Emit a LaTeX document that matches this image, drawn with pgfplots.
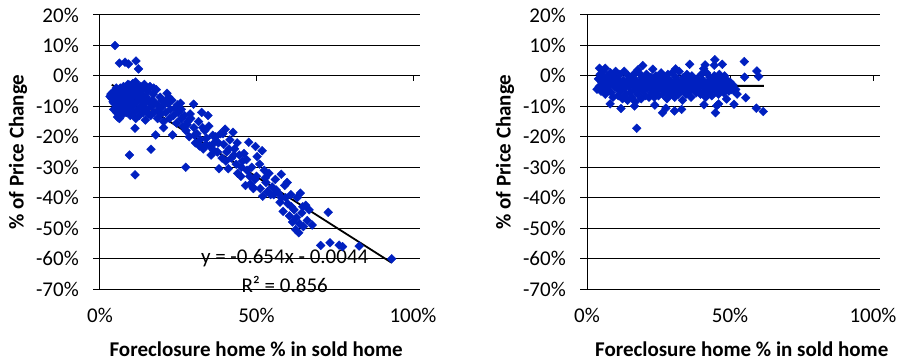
\documentclass[border=0pt]{standalone}
\usepackage{pgfplots}
\pgfplotsset{compat=1.18}
\usepackage{fontspec}
\setmainfont{Carlito}

\definecolor{markblue}{RGB}{0,32,192}
\newcommand\chartfont{\fontsize{21}{25}\selectfont}

% foreclosure share (%) vs. price change (%), all areas
\pgfplotstableread{
x y
4.8 10.0
6.2 4.2
8.0 4.5
9.1 3.9
11.5 4.9
12.3 2.3
9.4 -26.0
11.2 -32.5
11.2 -17.2
16.3 -24.1
27.4 -30.0
17.8 -19.4
20.3 -17.0
23.2 -19.4
3.5 -6.0
3.8 -7.5
4.0 -5.5
4.2 -8.5
4.5 -9.0
4.6 -6.5
5.0 -7.0
5.0 -10.5
5.3 -12.0
5.5 -8.0
5.6 -13.5
5.8 -5.0
6.0 -9.5
6.2 -14.0
6.3 -7.0
6.5 -4.0
6.8 -11.0
7.0 -6.0
7.2 -8.5
7.4 -12.5
7.5 -3.5
7.8 -10.0
8.0 -5.0
8.2 -7.5
8.5 -9.0
8.7 -4.0
9.0 -11.0
9.0 -6.5
9.3 -3.0
9.5 -8.0
9.7 -13.0
10.0 -5.5
10.2 -10.0
10.4 -7.0
10.5 -2.5
10.8 -12.0
11.0 -4.5
11.2 -9.0
11.4 -14.0
11.6 -6.0
11.8 -3.0
12.0 -11.0
12.2 -8.0
12.4 -5.0
12.6 -13.0
12.8 -7.0
13.0 -3.5
13.2 -10.0
13.5 -6.0
13.8 -12.0
14.0 -4.0
14.2 -9.0
14.5 -14.5
14.8 -7.0
15.0 -11.0
15.3 -5.0
15.6 -8.5
16.0 -3.5
16.2 -13.0
16.5 -10.0
17.0 -6.0
17.3 -12.0
17.6 -9.0
18.0 -4.5
18.4 -14.0
18.8 -11.0
19.2 -7.0
19.5 -12.5
20.0 -10.0
20.3 -15.0
20.8 -8.5
21.0 -12.0
21.4 -5.7
21.8 -9.0
22.2 -14.0
22.5 -11.0
23.0 -8.0
23.5 -13.0
24.0 -10.5
24.5 -15.5
25.0 -12.0
25.7 -9.0
26.0 -14.0
26.5 -16.5
27.0 -13.0
27.5 -18.0
28.0 -15.0
28.5 -20.0
29.0 -14.0
29.9 -9.3
30.0 -17.0
30.5 -22.0
31.0 -19.0
31.5 -15.0
32.0 -21.0
32.5 -12.0
33.0 -24.0
33.5 -18.0
34.0 -20.5
34.5 -13.0
35.0 -23.0
35.5 -26.0
36.0 -19.5
36.5 -22.0
37.0 -20.0
37.5 -25.0
38.0 -30.5
38.5 -19.0
39.0 -27.0
39.5 -22.5
40.0 -17.5
40.5 -25.0
41.0 -30.5
41.5 -21.0
42.0 -27.0
42.5 -18.5
43.0 -24.0
43.5 -29.0
44.0 -32.0
44.5 -26.0
45.0 -33.0
45.5 -28.0
46.0 -25.5
46.5 -36.0
47.0 -31.0
47.5 -21.8
48.0 -35.5
48.5 -30.0
49.0 -37.0
49.7 -23.2
50.0 -33.0
50.2 -26.5
51.0 -29.0
51.8 -24.6
52.0 -39.5
52.5 -31.0
53.0 -35.0
53.5 -38.0
54.0 -32.0
55.0 -36.5
55.5 -39.0
56.0 -34.0
57.0 -38.5
57.9 -32.3
58.0 -40.0
58.5 -44.5
59.0 -36.0
59.8 -35.0
60.0 -42.0
60.5 -46.0
61.0 -39.0
61.5 -48.0
62.0 -44.0
62.5 -50.5
63.0 -40.0
63.5 -51.5
64.0 -38.5
64.5 -45.0
65.0 -49.5
65.7 -42.5
66.2 -47.5
66.8 -44.0
67.8 -49.0
70.5 -55.7
72.9 -44.8
73.5 -54.8
76.4 -55.6
77.5 -56.1
82.8 -55.9
93.2 -60.1
3.2 -6.8
4.4 -11.0
5.2 -4.0
6.0 -12.5
6.6 -9.0
7.6 -6.5
8.4 -12.0
8.9 -2.8
9.8 -4.5
10.6 -9.5
11.4 -2.0
12.0 -6.5
13.4 -8.0
14.2 -2.8
15.5 -12.5
16.8 -8.0
17.2 -4.0
18.5 -9.5
19.8 -8.0
22.0 -7.0
24.8 -9.5
26.0 -11.0
27.8 -16.0
28.8 -12.5
30.2 -19.5
31.8 -23.0
32.8 -17.0
33.8 -22.5
34.8 -16.5
36.3 -24.5
37.8 -22.0
39.3 -19.0
40.2 -28.0
41.2 -24.0
42.8 -26.0
43.8 -22.0
45.2 -30.0
46.8 -27.5
47.8 -33.0
48.8 -36.5
49.5 -34.0
51.2 -37.0
52.8 -33.5
54.5 -39.0
56.3 -37.5
57.5 -41.5
59.3 -40.0
61.2 -43.0
62.8 -46.5
63.7 -48.5
64.8 -43.0
}\leftdata

% foreclosure share (%) vs. price change (%), second group
\pgfplotstableread{
x y
17.4 -17.2
35.9 3.8
44.7 5.3
44.5 3.5
47.3 3.8
41.3 3.6
40.8 2.4
55.0 4.7
55.1 -0.4
55.5 -7.2
59.4 1.6
60.0 -0.2
59.2 -10.6
61.6 -11.7
51.4 -9.3
48.8 -7.6
44.9 -12.1
45.4 -9.8
46.0 -9.2
40.9 -9.5
33.1 -11.0
30.6 -11.5
26.4 -12.1
27.6 -10.6
23.7 -9.6
16.6 -9.9
11.9 -10.7
8.1 -9.2
3.5 -4.4
19.5 3.4
17.8 2.0
23.0 2.2
4.4 2.5
6.4 2.5
31.0 2.3
4.0 -1.0
4.3 -3.5
4.6 0.5
4.9 -5.0
5.2 -2.0
5.5 1.5
5.8 -4.0
6.1 -0.5
6.4 -6.0
6.7 -2.5
7.0 0.0
7.3 -4.5
7.6 -1.5
7.9 -3.0
8.2 1.0
8.5 -5.5
8.8 -2.0
9.1 -7.0
9.4 -0.5
9.7 -3.5
10.0 1.5
10.3 -4.0
10.6 -1.0
10.9 -6.5
11.2 -2.5
11.5 0.5
11.8 -5.0
12.1 -3.0
12.4 -7.5
12.7 -1.5
13.0 1.5
13.3 -4.0
13.6 -6.0
13.9 -2.0
14.2 -8.0
14.5 0.0
14.8 -3.5
15.1 -5.5
15.4 -1.0
15.7 -7.0
16.0 -2.5
16.3 0.5
16.6 -4.5
16.9 -8.5
17.2 -1.5
17.5 -3.0
17.8 -6.0
18.1 1.0
18.4 -4.0
18.7 -2.0
19.0 -7.5
19.3 -0.5
19.6 -5.0
19.9 -3.0
20.2 -1.0
20.5 -6.5
20.8 0.5
21.1 -4.0
21.4 -2.0
21.7 -7.0
22.0 -3.5
22.3 -0.5
22.6 -5.5
22.9 -1.5
23.2 -4.0
23.5 -7.0
23.8 -2.5
24.1 0.0
24.4 -5.0
24.7 -3.0
25.0 -6.5
25.3 -1.0
25.6 -4.0
25.9 1.0
26.2 -2.5
26.5 -6.0
26.8 -3.5
27.1 -0.5
27.4 -5.0
27.7 -2.0
28.0 -7.5
28.3 0.5
28.6 -4.0
28.9 -1.5
29.2 -6.0
29.5 -3.0
29.8 1.0
30.1 -5.0
30.4 -2.5
30.7 -7.0
31.0 -0.5
31.3 -4.0
31.6 -1.5
31.9 -6.0
32.2 1.5
32.5 -3.0
32.8 -5.0
33.1 -2.0
33.4 -8.0
33.7 -0.5
34.0 -4.0
34.3 -2.5
34.6 -6.0
34.9 0.5
35.2 -3.5
35.5 -1.0
35.8 -5.0
36.1 -2.0
36.4 -7.0
36.7 0.0
37.0 -3.0
37.3 -4.5
37.6 -1.5
37.9 -2.5
38.2 -5.5
38.5 -1.0
38.8 -3.5
39.1 -4.0
39.4 -2.0
39.7 -6.0
40.0 0.5
40.3 -3.0
40.6 -1.5
40.9 -5.0
41.2 -2.5
41.5 -7.0
41.8 1.0
42.1 -4.0
42.4 -2.0
42.7 -5.5
43.0 -0.5
43.3 -3.0
43.6 -6.5
43.9 -1.5
44.2 -4.0
44.5 0.0
44.8 -2.5
45.1 -5.0
45.4 -1.0
45.7 -3.5
46.0 -6.0
46.3 0.5
46.6 -2.0
46.9 -4.5
47.2 -1.0
47.5 -3.0
47.8 -5.5
48.1 0.0
48.4 -2.5
48.7 -4.0
49.0 -1.5
49.3 -3.5
49.6 -5.0
50.0 -2.0
50.5 -4.5
51.0 -3.0
51.5 -5.0
52.0 -4.5
52.5 -6.0
}\rightdata

\pgfplotsset{
  pricechart/.style={
    scale only axis,
    height=274pt,
    xmin=0, xmax=100, ymin=-70, ymax=20,
    xtick={0,50,100},
    xticklabels={0\%,50\%,100\%},
    ytick={-70,-60,-50,-40,-30,-20,-10,0,10,20},
    yticklabels={-70\%,-60\%,-50\%,-40\%,-30\%,-20\%,-10\%,0\%,10\%,20\%},
    axis line style={draw=none},
    tick align=outside,
    major tick length=6.7pt,
    xtick style={draw=none},
    ytick style={black, line width=1pt},
    ymajorgrids,
    grid style={black, line width=1pt},
    xticklabel style={font=\chartfont, yshift=-9pt},
    yticklabel style={font=\chartfont, xshift=-11pt},
    xlabel={Foreclosure home \% in sold home},
    ylabel={\% of Price Change},
    clip=false,
  },
  pts/.style={only marks, mark=square*, mark size=3.1pt,
    mark options={rotate=45, fill=markblue, draw=markblue}},
}

\begin{document}
\begin{tikzpicture}[x=1pt,y=1pt]
\path[use as bounding box] (0,0) rectangle (900,362);

\begin{axis}[pricechart, width=313pt, at={(100pt,73pt)}, anchor=south west,
  ylabel style={at={(axis description cs:-0.262,0.5)}, rotate=0, anchor=center, font=\bfseries\chartfont},
  xlabel style={at={(axis description cs:0.499,-0.219)}, anchor=center, font=\bfseries\chartfont}]
  \draw[black, line width=1pt] (axis cs:0,0) -- (axis cs:100,0);
  \draw[black, line width=1pt] (axis cs:50,0) -- (axis cs:50,-1.6);
  \draw[black, line width=1pt] (axis cs:100,0) -- (axis cs:100,-1.6);
  \draw[black, line width=1pt] (axis cs:0,-70) -- (axis cs:0,20);
  \addplot[pts] table {\leftdata};
  % linear trend: y = -0.654x - 0.0044 (in percent units)
  \addplot[black, line width=1.8pt] coordinates {(3.75,-2.89) (93.2,-61.39)};
  \node[font=\chartfont] at (axis cs:59,-59.9) {y = -0.654x - 0.0044};
  \node[font=\chartfont] at (axis cs:59,-68.4) {R² = 0.856};
\end{axis}

\begin{axis}[pricechart, width=286pt, at={(587pt,73pt)}, anchor=south west,
  ylabel style={at={(axis description cs:-0.287,0.5)}, rotate=0, anchor=center, font=\bfseries\chartfont},
  xlabel style={at={(axis description cs:0.541,-0.219)}, anchor=center, font=\bfseries\chartfont}]
  \draw[black, line width=1pt] (axis cs:0,0) -- (axis cs:100,0);
  \draw[black, line width=1pt] (axis cs:50,0) -- (axis cs:50,-1.6);
  \draw[black, line width=1pt] (axis cs:100,0) -- (axis cs:100,-1.6);
  \draw[black, line width=1pt] (axis cs:0,-70) -- (axis cs:0,20);
  \addplot[pts] table {\rightdata};
  % linear trend, nearly flat
  \addplot[black, line width=2pt] coordinates {(3.5,-3.1) (61.8,-3.3)};
\end{axis}
\end{tikzpicture}
\end{document}
